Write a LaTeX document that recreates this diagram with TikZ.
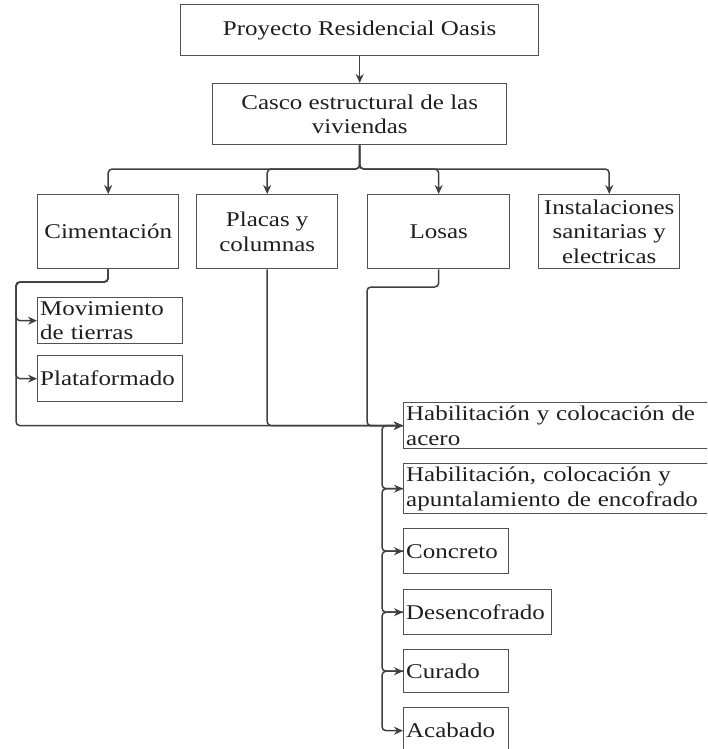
\documentclass[tikz,border=0pt]{standalone}
\usepackage{fontspec}
\setmainfont[FakeStretch=1.19]{Liberation Serif}
\usetikzlibrary{arrows.meta}
\begin{document}
\begin{tikzpicture}[x=1pt,y=-1pt,
  box/.style={draw=black!68, line width=1.4pt, inner sep=0pt, anchor=north west,
    text=black!88, font=\fontsize{21}{24.5}\selectfont},
  cbox/.style={box, align=center},
  lbox/.style={box, align=left, inner xsep=2.5pt},
  conn/.style={draw=black!75, line width=1.5pt, rounded corners=4pt,
    -{Stealth[length=9pt,width=8pt]}}]
\useasboundingbox (0,0) rectangle (707,749);
\clip (0,0) rectangle (707,749);

% top
\node[cbox, minimum width=358pt, minimum height=51pt] (p) at (180,4) {Proyecto Residencial Oasis};
\node[cbox, minimum width=294pt, minimum height=61pt] (c) at (212,83) {Casco estructural de las\\viviendas};

% second row
\node[cbox, minimum width=141pt, minimum height=74pt] (cim) at (37,194) {Cimentación};
\node[cbox, minimum width=141pt, minimum height=74pt] (pla) at (196,194) {Placas y\\columnas};
\node[cbox, minimum width=142pt, minimum height=74pt] (los) at (367,194) {Losas};
\node[cbox, minimum width=141pt, minimum height=74pt] (ins) at (538,194) {Instalaciones\\sanitarias y\\electricas};

% left column
\node[lbox, text width=140pt, minimum height=46pt] (mov) at (37,297) {Movimiento\\de tierras};
\node[lbox, text width=140pt, minimum height=46pt] (plat) at (37,355) {Plataformado};

% right column
\node[lbox, text width=315pt, minimum height=46pt] (h1) at (403,402) {Habilitación y colocación de\\acero};
\node[lbox, text width=315pt, minimum height=50pt] (h2) at (403,463) {Habilitación, colocación y\\apuntalamiento de encofrado};
\node[lbox, text width=100pt, minimum height=45pt] (conc) at (403,528) {Concreto};
\node[lbox, text width=143pt, minimum height=45pt] (des) at (403,589) {Desencofrado};
\node[lbox, text width=100pt, minimum height=43pt] (cur) at (403,649) {Curado};
\node[lbox, text width=100pt, minimum height=46pt] (aca) at (403,707) {Acabado};

% helper coordinates
\coordinate (cb) at (359,169);
\coordinate (lx) at (16,282);
\coordinate (ly) at (367,287);
\coordinate (vx) at (382,0);

% connectors
\draw[conn] (p.south) -- (p.south |- c.north);
\draw[conn] (c.south) -- (c.south |- cb) -| (cim.north);
\draw[conn] (c.south) -- (c.south |- cb) -| (pla.north);
\draw[conn] (c.south) -- (c.south |- cb) -| (los.north);
\draw[conn] (c.south) -- (c.south |- cb) -| (ins.north);

\draw[conn] (cim.south) |- (lx) |- (mov.west);
\draw[conn] (cim.south) |- (lx) |- (plat.west);
\draw[conn] (cim.south) |- (lx) |- (h1.west);
\draw[conn] (pla.south) |- (h1.west);
\draw[conn] (los.south) |- (ly) |- (h1.west);

\draw[conn] (h1.west) -- (h1.west -| vx) |- (h2.west);
\draw[conn] (h2.west) -- (h2.west -| vx) |- (conc.west);
\draw[conn] (conc.west) -- (conc.west -| vx) |- (des.west);
\draw[conn] (des.west) -- (des.west -| vx) |- (cur.west);
\draw[conn] (cur.west) -- (cur.west -| vx) |- (aca.west);
\end{tikzpicture}
\end{document}
